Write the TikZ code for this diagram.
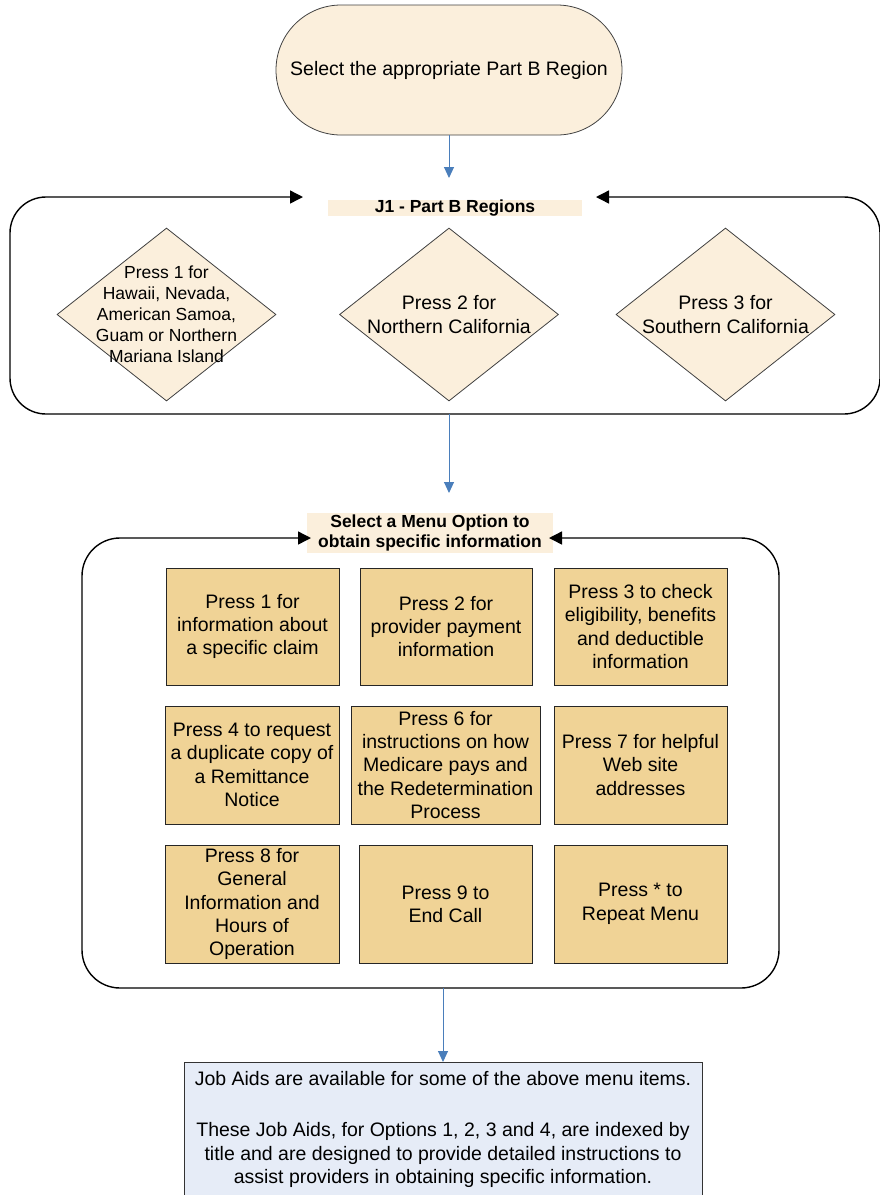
\documentclass[tikz,border=0pt]{standalone}
\usepackage{fontspec}
\setmainfont{Liberation Sans}
\usetikzlibrary{shapes.geometric,arrows.meta}
\definecolor{termfill}{HTML}{FBEFDC}
\definecolor{termline}{HTML}{404040}
\definecolor{menufill}{HTML}{F0D396}
\definecolor{jobfill}{HTML}{E6ECF7}
\definecolor{arrowblue}{HTML}{4A7EBB}
\newcommand\mainfs{\fontsize{19.5}{23.4}\selectfont}
\newcommand\smallfs{\fontsize{17.5}{21}\selectfont}
\newcommand\labfs{\fontsize{17.5}{20}\selectfont\bfseries}
\tikzset{
  txt/.style={font=\mainfs, align=center, inner sep=0pt},
  term/.style={txt, draw=termline, line width=0.8pt, fill=termfill, rounded corners=65pt, minimum width=346pt, minimum height=130pt},
  diam/.style={diamond, draw=termline, line width=0.8pt, fill=termfill, minimum width=219pt, minimum height=173pt, inner sep=0pt},
  lab/.style={font=\labfs, align=center, inner sep=0pt, fill=termfill},
  mbox/.style={txt, draw=black!85, line width=0.9pt, fill=menufill},
  jbox/.style={draw=black!80, line width=0.9pt, fill=jobfill, inner sep=0pt},
  cont/.style={draw=black, line width=1.4pt, {Triangle[length=13pt,width=13pt]}-{Triangle[length=13pt,width=13pt]}},
  bluearrow/.style={draw=arrowblue, line width=1pt, -{Triangle[length=11pt,width=10pt]}}
}
\begin{document}
\begin{tikzpicture}[x=1pt,y=-1pt]
\useasboundingbox (0,0) rectangle (880,1195);
\clip (0,0) rectangle (880,1195);

% start terminator
\node[term] (start) at (449,70) {Select the appropriate Part B Region};
\coordinate (a1e) at (449,178);
\draw[bluearrow] (start.south) -- (a1e);

% J1 region container
\node[lab, minimum width=254pt, minimum height=16pt, text height=12.5pt, text depth=3.5pt] (j1) at (455,208) {J1 - Part B Regions};
\coordinate (c1a) at (303,197);
\coordinate (c1b) at (596,197);
\draw[cont, rounded corners=36pt] (c1a) -- (10,197) -- (10,414) -- (880,414) -- (880,197) -- (c1b);

\node[diam] (d1) at (166.5,314.5) {};
\node[txt, font=\smallfs] (d1t) at (d1) {Press 1 for\\Hawaii, Nevada,\\American Samoa,\\Guam or Northern\\Mariana Island};
\node[diam] (d2) at (449,314.5) {};
\node[txt] (d2t) at (d2) {Press 2 for\\Northern California};
\node[diam] (d3) at (725.5,314.5) {};
\node[txt] (d3t) at (d3) {Press 3 for\\Southern California};

\coordinate (a2s) at (449,414);
\coordinate (a2e) at (449,493);
\draw[bluearrow] (a2s) -- (a2e);

% menu container
\node[lab, minimum width=246pt, minimum height=40pt] (menu) at (430,533) {Select a Menu Option to\\obtain specific information};
\coordinate (c2a) at (311,538);
\coordinate (c2b) at (549,538);
\draw[cont, rounded corners=38pt] (c2a) -- (82,538) -- (82,988) -- (779,988) -- (779,538) -- (c2b);

\node[mbox, minimum width=173pt, minimum height=117pt] (o1) at (252.5,626.5) {Press 1 for\\information about\\a specific claim};
\node[mbox, minimum width=172pt, minimum height=117pt] (o2) at (446,626.5) {Press 2 for\\provider payment\\information};
\node[mbox, minimum width=173pt, minimum height=117pt] (o3) at (640.5,626.5) {Press 3 to check\\eligibility, benefits\\and deductible\\information};

\node[mbox, minimum width=174pt, minimum height=118pt] (o4) at (252,765) {Press 4 to request\\a duplicate copy of\\a Remittance\\Notice};
\node[mbox, minimum width=189pt, minimum height=118pt] (o6) at (445.5,765) {Press 6 for\\instructions on how\\Medicare pays and\\the Redetermination\\Process};
\node[mbox, minimum width=173pt, minimum height=118pt] (o7) at (640.5,765) {Press 7 for helpful\\Web site\\addresses};

\node[mbox, minimum width=174pt, minimum height=118pt] (o8) at (252,904) {Press 8 for\\General\\Information and\\Hours of\\Operation};
\node[mbox, minimum width=173pt, minimum height=118pt] (o9) at (445.5,904) {Press 9 to\\End Call};
\node[mbox, minimum width=173pt, minimum height=118pt] (ostar) at (640.5,904) {Press * to\\Repeat Menu};

% job aids box
\node[jbox, minimum width=518pt, minimum height=160pt, anchor=north] (jobs) at (443,1062) {};
\node[txt, anchor=north] (jobst) at (443,1071) {Job Aids are available for some of the above menu items.\\[28pt]These Job Aids, for Options 1, 2, 3 and 4, are indexed by\\title and are designed to provide detailed instructions to\\assist providers in obtaining specific information.};
\coordinate (a3s) at (443,988);
\draw[bluearrow] (a3s) -- (jobs.north);
\end{tikzpicture}
\end{document}
